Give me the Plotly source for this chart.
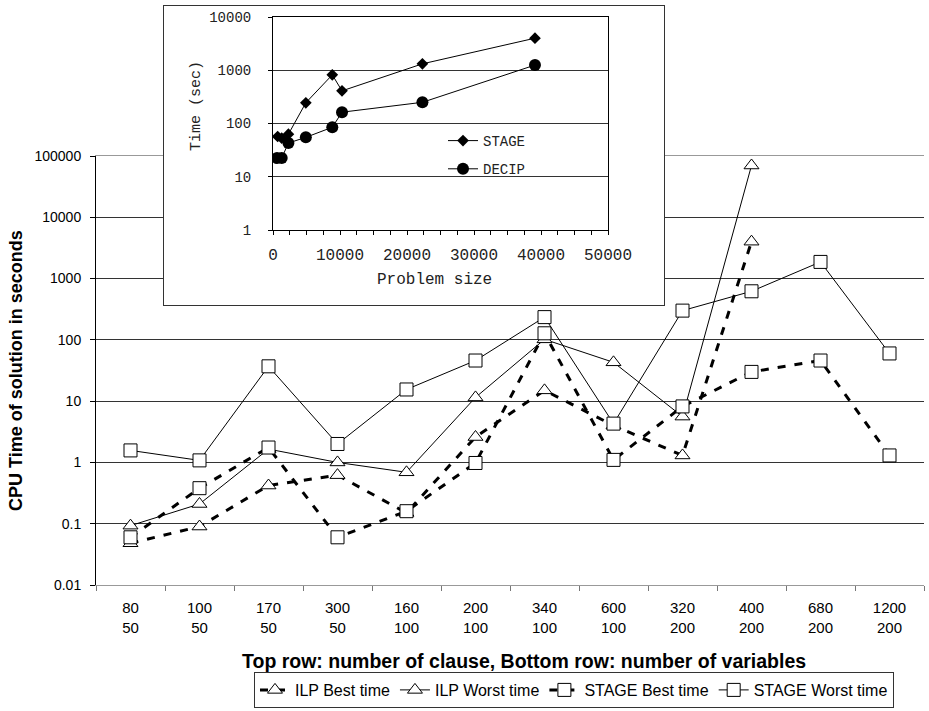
import plotly.graph_objects as go

W, H = 929, 711

# ---------------- main chart data ----------------
clauses = ["80", "100", "170", "300", "160", "200", "340", "600", "320", "400", "680", "1200"]
variables = ["50", "50", "50", "50", "100", "100", "100", "100", "200", "200", "200", "200"]

ilp_best = [0.048, 0.09, 0.42, 0.62, 0.15, 2.6, 15, 4.0, 1.3, 4000, None, None]
ilp_worst = [0.093, 0.21, 1.65, 1.0, 0.69, 11.5, 102, 43, 5.6, 70000, None, None]
stage_best = [0.06, 0.38, 1.75, 0.06, 0.16, 0.98, 128, 1.1, 8.2, 30, 46, 1.3]
stage_worst = [1.57, 1.08, 37, 2.0, 15.5, 46, 235, 4.3, 300, 620, 1870, 60]

y_tick_vals = [0.01, 0.1, 1, 10, 100, 1000, 10000, 100000]
y_tick_text = ["0.01", "0.1", "1", "10", "100", "1000", "10000", "100000"]

# ---------------- inset data ----------------
inset_stage_x = [700, 1300, 2300, 4900, 8850, 10300, 22300, 39100]
inset_stage_y = [57, 53, 63, 245, 820, 410, 1320, 4000]
inset_decip_x = [600, 1300, 2300, 4900, 8850, 10300, 22300, 39100]
inset_decip_y = [22.5, 22.5, 43, 55, 85, 163, 250, 1250]

inset_y_tick_vals = [1, 10, 100, 1000, 10000]
inset_y_tick_text = ["1", "10", "100", "1000", "10000"]
inset_x_tick_vals = [0, 10000, 20000, 30000, 40000, 50000]
inset_x_tick_text = ["0", "10000", "20000", "30000", "40000", "50000"]


def fx(px):
    return px / W


def fy(py):
    return 1 - py / H


categories = [f"{c}<br>{v}" for c, v in zip(clauses, variables)]

SANS = "Liberation Sans, Arial, sans-serif"
MONO = "Liberation Mono, Courier New, monospace"

fig = go.Figure()

main_series = [
    ("ILP Best time", ilp_best, "triangle-up", dict(width=3, dash="8px,9px")),
    ("ILP Worst time", ilp_worst, "triangle-up", dict(width=1)),
    ("STAGE Best time", stage_best, "square", dict(width=3, dash="8px,9px")),
    ("STAGE Worst time", stage_worst, "square", dict(width=1)),
]
for name, vals, sym, ln in main_series:
    fig.add_trace(go.Scatter(
        x=categories, y=vals, name=name, mode="lines+markers",
        line=dict(color="black", **ln),
        marker=dict(symbol=sym, size=13, color="white",
                    line=dict(color="black", width=1)),
        xaxis="x", yaxis="y", legend="legend",
    ))

# inset frame subplot (empty)
fig.add_trace(go.Scatter(x=[], y=[], xaxis="x2", yaxis="y2", showlegend=False))

# inset traces
fig.add_trace(go.Scatter(
    x=inset_stage_x, y=inset_stage_y, name="STAGE", mode="lines+markers",
    line=dict(color="black", width=1),
    marker=dict(symbol="diamond", size=9, color="black"),
    xaxis="x3", yaxis="y3", legend="legend2", legendgroup="a",
))
fig.add_trace(go.Scatter(
    x=inset_decip_x, y=inset_decip_y, name="DECIP", mode="lines+markers",
    line=dict(color="black", width=1),
    marker=dict(symbol="circle", size=12, color="black"),
    xaxis="x3", yaxis="y3", legend="legend2", legendgroup="b",
))

fig.update_layout(
    width=W, height=H,
    margin=dict(l=0, r=0, t=0, b=0),
    paper_bgcolor="white", plot_bgcolor="white",
    font=dict(family=SANS, size=14, color="black"),
    showlegend=True,
    xaxis=dict(
        domain=[fx(96), fx(924)], anchor="y", type="category",
        range=[-0.5, 11.5], tickson="boundaries",
        showline=True, linecolor="#999", linewidth=1, mirror=True,
        ticks="outside", ticklen=5, tickcolor="#777",
        showgrid=False, zeroline=False, automargin=False,
        tickfont=dict(family=SANS, size=15, color="black"),
        ticklabelstandoff=9,
    ),
    yaxis=dict(
        domain=[fy(585), fy(156)], anchor="x", type="log", range=[-2, 5],
        tickvals=y_tick_vals, ticktext=y_tick_text,
        showline=True, linecolor="black", linewidth=1,
        ticks="outside", ticklen=5, tickcolor="black",
        showgrid=True, gridcolor="#333", gridwidth=1, zeroline=False,
        automargin=False, tickfont=dict(family=SANS, size=14, color="black"),
        ticklabelstandoff=6,
    ),
    xaxis2=dict(
        domain=[fx(164), fx(664)], anchor="y2", range=[0, 1],
        showline=True, linecolor="#333", linewidth=1, mirror=True,
        showgrid=False, zeroline=False, showticklabels=False, ticks="",
        fixedrange=True,
    ),
    yaxis2=dict(
        domain=[fy(305), fy(6)], anchor="x2", range=[0, 1],
        showline=True, linecolor="#333", linewidth=1, mirror=True,
        showgrid=False, zeroline=False, showticklabels=False, ticks="",
        fixedrange=True,
    ),
    xaxis3=dict(
        domain=[fx(273), fx(608)], anchor="y3", range=[0, 50000],
        tickvals=inset_x_tick_vals, ticktext=inset_x_tick_text,
        showline=True, linecolor="black", linewidth=1, mirror=True,
        ticks="outside", ticklen=4, tickcolor="black",
        minor=dict(tick0=0, dtick=2500, ticks="outside", ticklen=4, tickcolor="black"),
        showgrid=False, zeroline=False, automargin=False,
        tickfont=dict(family=MONO, size=16, color="#222"),
        ticklabelstandoff=6,
    ),
    yaxis3=dict(
        domain=[fy(230), fy(17)], anchor="x3", type="log", range=[0, 4],
        tickvals=inset_y_tick_vals, ticktext=inset_y_tick_text,
        showline=True, linecolor="black", linewidth=1, mirror=True,
        ticks="outside", ticklen=4, tickcolor="black",
        showgrid=True, gridcolor="#333", gridwidth=1, zeroline=False,
        automargin=False, tickfont=dict(family=MONO, size=14, color="#222"),
        ticklabelstandoff=14,
    ),
    legend=dict(
        orientation="h", x=fx(574), xanchor="center", y=fy(690), yanchor="middle",
        bgcolor="white", bordercolor="#333", borderwidth=1,
        font=dict(family=SANS, size=16, color="black"),
        itemwidth=30, traceorder="normal",
    ),
    legend2=dict(
        x=fx(443), xanchor="left", y=fy(125), yanchor="top",
        bgcolor="rgba(0,0,0,0)", borderwidth=0,
        font=dict(family=MONO, size=14, color="#222"),
        traceorder="grouped", tracegroupgap=7, itemwidth=30,
    ),
    annotations=[
        dict(text="<b>CPU Time of solution in seconds</b>", xref="paper", yref="paper",
             x=fx(16), y=fy(371), xanchor="center", yanchor="middle",
             textangle=-90, showarrow=False,
             font=dict(family=SANS, size=18, color="black")),
        dict(text="<b>Top row: number of clause, Bottom row: number of variables</b>",
             xref="paper", yref="paper", x=fx(524), y=fy(661),
             xanchor="center", yanchor="middle", showarrow=False,
             font=dict(family=SANS, size=19.5, color="black")),
        dict(text="Time (sec)", xref="paper", yref="paper", x=fx(196), y=fy(106),
             xanchor="center", yanchor="middle",
             textangle=-90, showarrow=False,
             font=dict(family=MONO, size=15, color="#222")),
        dict(text="Problem size", xref="paper", yref="paper", x=fx(434), y=fy(280),
             xanchor="center", yanchor="middle",
             showarrow=False, font=dict(family=MONO, size=16, color="#222")),
    ],
)

fig.write_html("out.html")
